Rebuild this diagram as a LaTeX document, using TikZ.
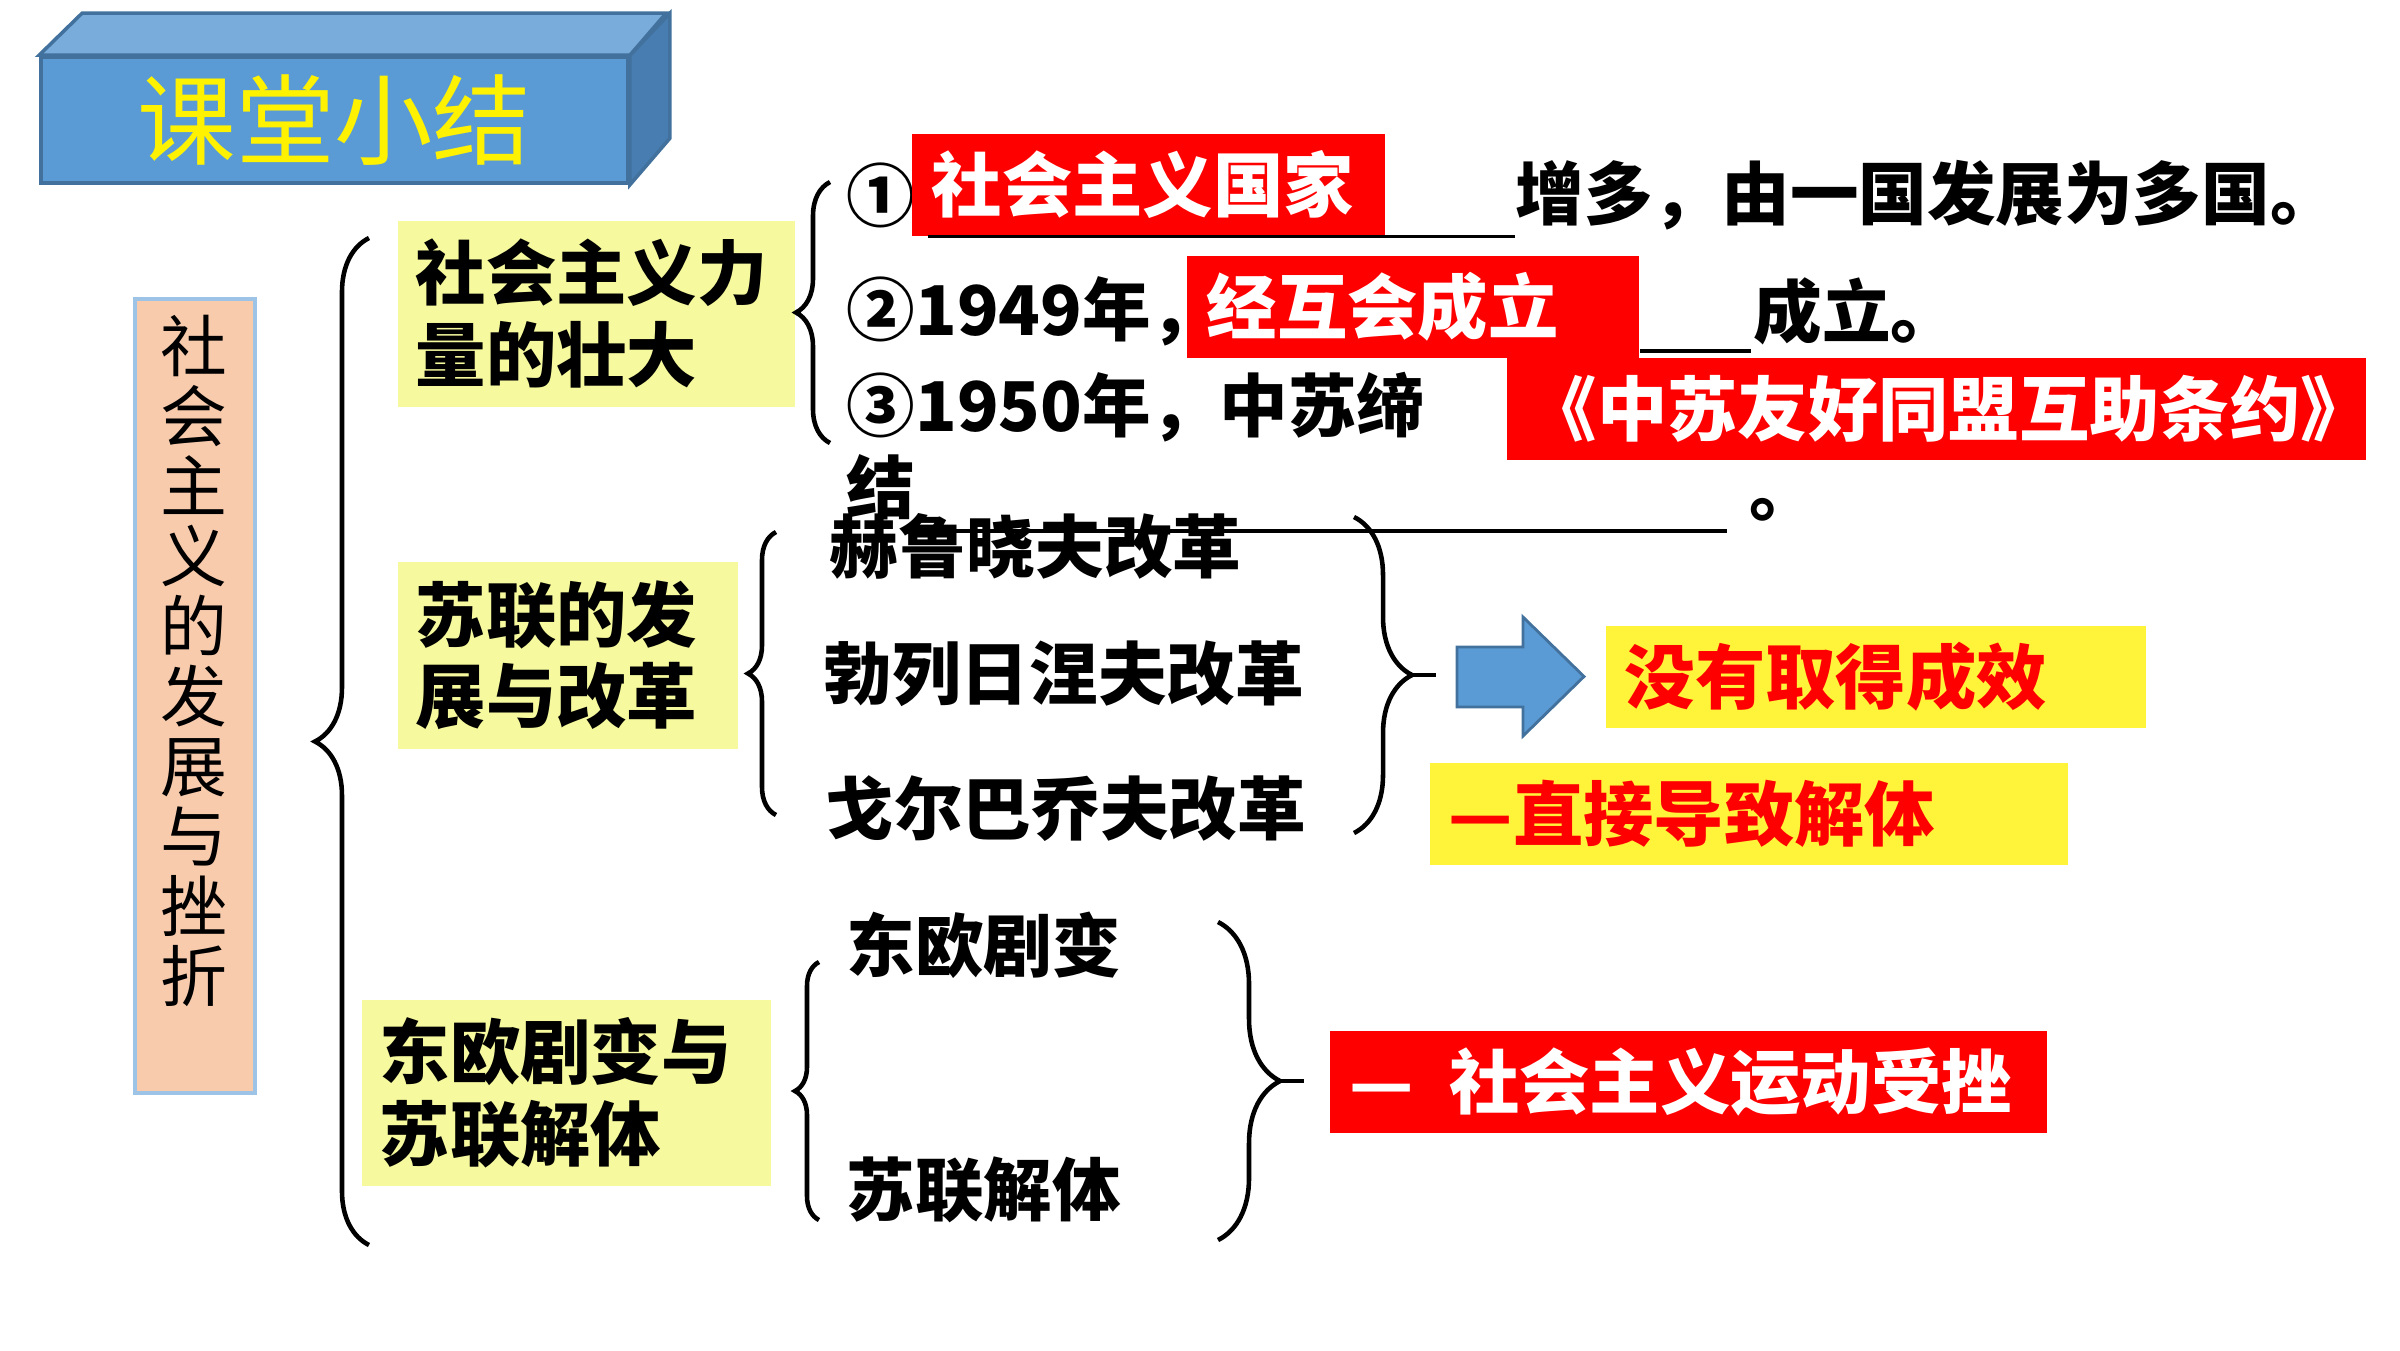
\documentclass[tikz,border=0pt]{standalone}
\usepackage{fontspec}
\setmainfont{Noto Sans CJK SC}
\usetikzlibrary{decorations.pathreplacing}
\definecolor{titlefront}{HTML}{5B9BD5}
\definecolor{titletop}{HTML}{7AACDB}
\definecolor{titleside}{HTML}{477DB0}
\definecolor{titleedge}{HTML}{41719C}
\definecolor{paleyellow}{HTML}{F6F99E}
\definecolor{brightyellow}{HTML}{FFF43A}
\definecolor{peach}{HTML}{F8CBAD}
\definecolor{peachedge}{HTML}{9DC3E6}
\tikzset{
 topic/.style={fill=paleyellow,inner xsep=0.18cm,inner ysep=0,align=left,anchor=north west,font=\bfseries\fontsize{20pt}{23.3pt}\selectfont},
 rowtext/.style={inner sep=0,anchor=west,font=\bfseries\fontsize{19.5pt}{24pt}\selectfont},
 redbox/.style={fill=red,text=white,inner xsep=0.2cm,inner ysep=0,minimum height=1.02cm,align=left,anchor=north west,font=\bfseries\fontsize{20pt}{24pt}\selectfont},
 yelbox/.style={fill=brightyellow,text=red,inner xsep=0.19cm,inner ysep=0,minimum height=1.02cm,align=left,anchor=north west,font=\bfseries\fontsize{20pt}{24pt}\selectfont},
 brc/.style={decorate,decoration={brace,amplitude=#1},line width=1.3pt},
 uline/.style={line width=1pt}
}
\begin{document}
\begin{tikzpicture}[x=0.01cm,y=-0.01cm]
 \useasboundingbox (0,0) rectangle (2400,1350);
 \node (title) [fill=titlefront,draw=titleedge,line width=1pt,minimum width=5.87cm,minimum height=1.26cm,text=yellow,font=\fontsize{28pt}{32pt}\selectfont] at (334.5,120) {课堂小结};
 \draw[fill=titletop,draw=titleedge,line width=1pt] (title.north west) -- ++(43,-42) -- ++(584,0) -- (title.north east) -- cycle;
 \draw[fill=titleside,draw=titleedge,line width=1pt] (title.north east) -- ++(40,-42) -- ++(0,125) -- (title.south east) -- cycle;
 \node (side) [fill=peach,draw=peachedge,line width=1pt,minimum width=1.2cm,minimum height=7.94cm,anchor=north west,inner sep=0] at (133,297) {};
 \node (sidetext) [anchor=north,align=center,inner sep=0,font=\fontsize{19pt}{0.70cm}\selectfont] at (194,314) {社\\会\\主\\义\\的\\发\\展\\与\\挫\\折};
 \coordinate (big1) at (369,1245);
 \coordinate (big2) at (369,238);
 \draw[brc=0.54cm] (big1) -- (big2);
 \node (top1) [topic,text width=3.61cm,minimum height=1.86cm] at (397,220) {社会主义力\\量的壮大};
 \node (top2) [topic,text width=3.04cm,minimum height=1.87cm] at (397,561) {苏联的发\\展与改革};
 \node (top3) [topic,text width=3.73cm,minimum height=1.86cm] at (361,999) {东欧剧变与\\苏联解体};
 \coordinate (b1a) at (830,443);
 \coordinate (b1b) at (830,182);
 \draw[brc=0.34cm] (b1a) -- (b1b);
 \node (c1) [rowtext] at (846,195) {①};
 \node (r1) [redbox,text width=4.33cm] at (911,133) {社会主义国家};
 \node (t1) [rowtext] at (1515,195) {增多，由一国发展为多国。};
 \draw[uline] ([xshift=0.17cm]r1.south west) -- (t1.west |- r1.south);
 \node (c2) [rowtext] at (846,311) {②1949年，};
 \node (r2) [redbox,text width=4.12cm] at (1186,255) {经互会成立};
 \node (t2) [rowtext] at (1753,311) {成立。};
 \coordinate (u2a) at (1640,351);
 \coordinate (u2b) at (1751,351);
 \draw[uline] (u2a) -- (u2b);
 \node (c3) [rowtext] at (846,407) {③1950年，中苏缔};
 \node (c3b) [rowtext] at (846,487) {结};
 \node (r3) [redbox,text width=8.19cm,align=center] at (1506,357) {《中苏友好同盟互助条约》};
 \node (t3) [rowtext,anchor=base west] at (1749,515) {。};
 \coordinate (u3a) at (905,531);
 \coordinate (u3b) at (1727,531);
 \draw[uline] (u3a) -- (u3b);
 \coordinate (b2a) at (776,815);
 \coordinate (b2b) at (776,532);
 \draw[brc=0.28cm] (b2a) -- (b2b);
 \node (k1) [rowtext] at (829,546) {赫鲁晓夫改革};
 \node (k2) [rowtext] at (823,674) {勃列日涅夫改革};
 \node (k3) [rowtext] at (825,809) {戈尔巴乔夫改革};
 \coordinate (b3a) at (1354,517);
 \coordinate (b3b) at (1354,833);
 \draw[brc=0.58cm] (b3a) -- (b3b);
 \coordinate (b3tip) at (1412,675);
 \draw[line width=1.3pt] (b3tip) -- ++(24,0);
 \coordinate (arw) at (1457,647);
 \draw[fill=titlefront,draw=titleedge,line width=0.8pt] (arw) -- ++(66,0) -- ++(0,-30) -- ++(61,59.5) -- ++(-61,59.5) -- ++(0,-29) -- ++(-66,0) -- cycle;
 \node (e1) [yelbox,text width=5.02cm] at (1605,625) {没有取得成效};
 \node (e2) [yelbox,text width=6.0cm] at (1429,762) {—直接导致解体};
 \coordinate (b4a) at (819,1220);
 \coordinate (b4b) at (819,962);
 \draw[brc=0.24cm] (b4a) -- (b4b);
 \node (d1) [rowtext] at (846,945) {东欧剧变};
 \node (d2) [rowtext] at (846,1190) {苏联解体};
 \coordinate (b5a) at (1218,922);
 \coordinate (b5b) at (1218,1240);
 \draw[brc=0.62cm] (b5a) -- (b5b);
 \coordinate (b5tip) at (1280,1081);
 \draw[line width=1.3pt] (b5tip) -- ++(24,0);
 \node (r4) [redbox,text width=6.77cm] at (1329,1030) {—\enspace 社会主义运动受挫};
\end{tikzpicture}
\end{document}
